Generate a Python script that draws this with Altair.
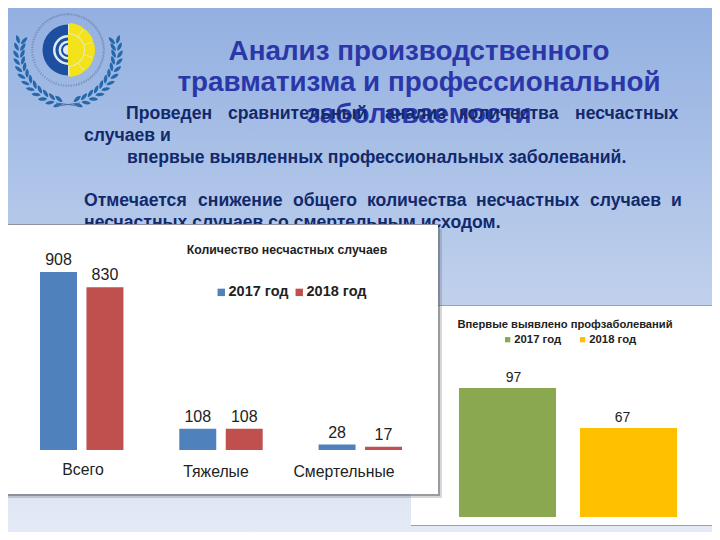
import math
import altair as alt

# ---- chart values ----
left_title = "Количество несчастных случаев"
right_title = "Впервые выявлено профзаболеваний"
years = ["2017 год", "2018 год"]
groups = ["Всего", "Тяжелые", "Смертельные"]
values_2017 = [908, 108, 28]
values_2018 = [830, 108, 17]
prof_values = [97, 67]

title_lines = ["Анализ производственного", "травматизма и профессиональной", "заболеваемости"]

SANS = "Liberation Sans"
OX, OY = 8, 8  # page margin


def px(v):
    return v - OX


def py(v):
    return v - OY


def text(s, x, y, size, color, weight="normal", align="left", font=SANS):
    return alt.Chart(alt.Data(values=[{"t": s}])).mark_text(
        font=font, fontSize=size, color=color, fontWeight=weight, align=align, baseline="alphabetic"
    ).encode(x=alt.value(px(x)), y=alt.value(py(y)), text="t:N")


def box(x0, y0, x1, y1, color, opacity=1.0):
    return alt.Chart(alt.Data(values=[{}])).mark_rect(color=color, opacity=opacity).encode(
        x=alt.value(max(px(x0), 0)), x2=alt.value(px(x1)), y=alt.value(py(y0)), y2=alt.value(py(y1))
    )


layers = []

# ---- slide background ----
bg = alt.LinearGradient(
    gradient="linear",
    stops=[
        alt.GradientStop(color="#93b0e1", offset=0),
        alt.GradientStop(color="#b7caea", offset=0.45),
        alt.GradientStop(color="#e4eaf6", offset=1),
    ],
    x1=0, x2=0, y1=0, y2=1,
)
layers.append(alt.Chart(alt.Data(values=[{}])).mark_rect(color=bg).encode(
    x=alt.value(0), x2=alt.value(704), y=alt.value(0), y2=alt.value(524)))


# ---- emblem ----
def arc(r0, r1, t0, t1, color, **kw):
    return alt.Chart(alt.Data(values=[{}])).mark_arc(
        radius=r1, radius2=r0, theta=math.radians(t0), theta2=math.radians(t1), color=color, **kw
    ).encode(x=alt.value(px(68)), y=alt.value(py(50)))


BLUE = "#1c4f9f"
YEL = "#f4e21a"
layers.append(alt.Chart(alt.Data(values=[{}])).mark_arc(
    radius=36, radius2=35.5, theta=0, theta2=math.tau, stroke="#7d94bf", strokeWidth=2,
    strokeDash=[1, 1.6], fillOpacity=0).encode(x=alt.value(px(68)), y=alt.value(py(50))))
layers.append(arc(0, 25.5, 180, 360, BLUE))
layers.append(arc(0, 15, 180, 360, "#dfe8f4"))
layers.append(arc(9.5, 12.5, 180, 360, BLUE))
layers.append(arc(5, 7, 180, 360, BLUE))
layers.append(arc(0, 26, 0, 180, "#e6ecd0"))
layers.append(arc(0, 16, 0, 180, YEL))
for a in (2, 37, 72, 107, 142):
    layers.append(arc(17, 27, a + 1, a + 34, YEL))

leaf = "M0,-1C0.5,-0.5 0.5,0.5 0,1C-0.5,0.5 -0.5,-0.5 0,-1Z"
leaves = []
for side in (-1, 1):
    for i in range(12):
        deg = -12 + i * 8.3
        ang = math.radians(deg)
        r = 48 + 0.45 * i
        cx = 68 + side * r * math.cos(ang)
        cy = 50 + r * math.sin(ang)
        tangent = side * deg
        for off, tilt in ((-3.2, -30), (3.2, 30)):
            leaves.append({
                "x": px(cx + side * off * math.cos(ang)),
                "y": py(cy + off * math.sin(ang)),
                "a": (tangent + tilt * side) % 360,
            })
layers.append(alt.Chart(alt.Data(values=leaves)).mark_point(
    shape=leaf, filled=True, color="#1f63a8", size=85, opacity=0.95
).encode(x=alt.X("x:Q", scale=None, axis=None), y=alt.Y("y:Q", scale=None, axis=None),
         angle=alt.Angle("a:Q", scale=None)))
layers.append(alt.Chart(alt.Data(values=[{"x": px(56), "y": py(106)}, {"x": px(80), "y": py(103)}])).mark_line(
    color="#4a6ea8", strokeWidth=1
).encode(x=alt.X("x:Q", scale=None, axis=None), y=alt.Y("y:Q", scale=None, axis=None)))
layers.append(alt.Chart(alt.Data(values=[{"x": px(56), "y": py(103)}, {"x": px(80), "y": py(106)}])).mark_line(
    color="#4a6ea8", strokeWidth=1
).encode(x=alt.X("x:Q", scale=None, axis=None), y=alt.Y("y:Q", scale=None, axis=None)))

# ---- slide heading ----
TITLE_C = "#2b37a9"
for line, y in zip(title_lines, (60, 91, 123)):
    layers.append(text(line, 419, y, 27.8, TITLE_C, "bold", "center"))

# ---- slide body text ----
BODY = "#12296b"
BS = 17.6
for w, x in zip(["Проведен", "сравнительный", "анализ", "количества", "несчастных"], [126, 228, 385, 459, 575]):
    layers.append(text(w, x, 119, BS, BODY, "bold"))
layers.append(text("случаев и", 84, 141, BS, BODY, "bold"))
layers.append(text("впервые выявленных профессиональных заболеваний.", 127, 163, BS, BODY, "bold"))
for w, x in zip(["Отмечается", "снижение", "общего", "количества", "несчастных", "случаев", "и"],
                [84, 198, 293, 367, 476, 590, 671]):
    layers.append(text(w, x, 206, BS, BODY, "bold"))
layers.append(text("несчастных случаев со смертельным исходом.", 84, 228, BS, BODY, "bold"))

# ---- right panel ----
layers.append(box(411, 305, 712, 526, "#9a9fa8"))
layers.append(box(411, 306, 712, 525, "#ffffff"))

right_data = [{"year": y, "v": v} for y, v in zip(years, prof_values)]
right_x = alt.X("year:N", axis=None, sort=years,
                scale=alt.Scale(domain=years, range=[px(459), px(677)], paddingInner=0.198, paddingOuter=0))
right_y = alt.Y("v:Q", axis=None, scale=alt.Scale(domain=[0, 97], range=[py(517), py(388)], nice=False))
layers.append(alt.Chart(alt.Data(values=right_data)).mark_bar(cornerRadius=0).encode(
    x=right_x, y=right_y,
    color=alt.Color("year:N", sort=years,
                    scale=alt.Scale(domain=years, range=["#8aa84f", "#ffc000"]),
                    legend=alt.Legend(orient="none", legendX=px(502), legendY=py(334), direction="horizontal",
                                      title=None, symbolType="square", symbolSize=28, symbolStrokeWidth=0,
                                      labelFont=SANS, labelFontSize=11.3, labelFontWeight="bold",
                                      labelColor="#222222", columnPadding=15, labelOffset=1, padding=0)),
))
layers.append(alt.Chart(alt.Data(values=right_data)).mark_text(
    font=SANS, fontSize=14, color="#222222", baseline="alphabetic", dy=-6
).encode(x=right_x, y=right_y, text="v:Q"))
layers.append(text(right_title, 565, 328, 11.2, "#222222", "bold", "center"))

# ---- left panel ----
layers.append(box(0, 229, 442, 498, "#5a5f68", 0.25))
layers.append(box(0, 227, 440, 496, "#5a5f68", 0.5))
layers.append(box(0, 224, 438, 225, "#8d929b"))
layers.append(box(0, 225, 438, 494, "#ffffff"))

left_data = []
for g, a, b in zip(groups, values_2017, values_2018):
    left_data.append({"group": g, "year": years[0], "v": a})
    left_data.append({"group": g, "year": years[1], "v": b})

left_x = alt.X("group:N", axis=None, sort=groups,
               scale=alt.Scale(domain=groups, range=[px(40), px(402)], paddingInner=0.401, paddingOuter=0))
left_off = alt.XOffset("year:N", sort=years,
                       scale=alt.Scale(domain=years, paddingInner=0.204, paddingOuter=0))
left_off_text = alt.XOffset("year:N", sort=years, scale=alt.Scale(domain=years, padding=0.398))
left_y = alt.Y("v:Q", axis=None, scale=alt.Scale(domain=[0, 908], range=[py(450), py(272)], nice=False))

layers.append(alt.Chart(alt.Data(values=left_data)).mark_bar(cornerRadius=0).encode(
    x=left_x, xOffset=left_off, y=left_y,
    color=alt.Color("year:N", sort=years,
                    scale=alt.Scale(domain=years, range=["#4f81bd", "#c0504d"]),
                    legend=alt.Legend(orient="none", legendX=px(214), legendY=py(285), direction="horizontal",
                                      title=None, symbolType="square", symbolSize=55, symbolStrokeWidth=0,
                                      labelFont=SANS, labelFontSize=14.5, labelFontWeight="bold",
                                      labelColor="#222222", columnPadding=3, labelOffset=0, padding=0)),
))
layers.append(alt.Chart(alt.Data(values=left_data)).mark_text(
    font=SANS, fontSize=16, color="#222222", baseline="alphabetic", dy=-7
).encode(x=left_x, xOffset=left_off_text, y=left_y, text="v:Q"))
layers.append(text(left_title, 287, 254, 12.3, "#222222", "bold", "center"))
for g, x, y in zip(groups, (83, 216, 344), (475, 477, 477)):
    layers.append(text(g, x, y, 15.8, "#222222", "normal", "center"))

chart = alt.layer(*layers).resolve_scale(
    x="independent", y="independent", color="independent", xOffset="independent"
).properties(
    width=704, height=524, padding=0, autosize=alt.AutoSizeParams(type="none"), background="white"
).configure_view(stroke=None)

chart.save("out.html", embed_options={"renderer": "svg", "actions": False})
